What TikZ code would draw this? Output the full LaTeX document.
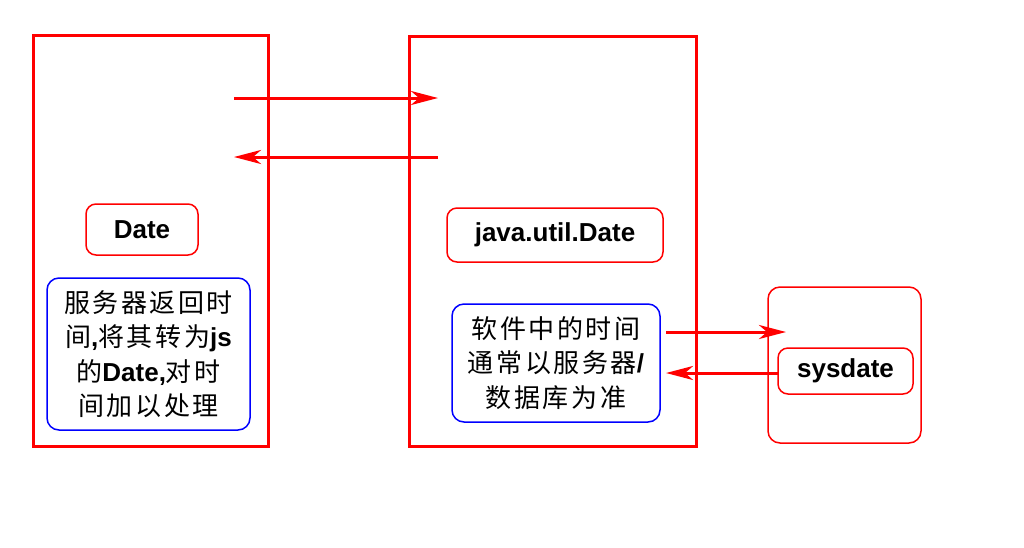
\documentclass[tikz,border=0pt]{standalone}
\usepackage{fontspec}
\setmainfont{Liberation Sans}
\newfontfamily\cjk[LetterSpace=10]{Noto Sans CJK SC}
\usetikzlibrary{arrows.meta}
\tikzset{
  bigbox/.style={draw=red, line width=3pt, inner sep=0pt},
  classbox/.style={draw=red, line width=1.5pt, rounded corners=10pt, inner sep=0pt,
    font=\fontsize{26}{30}\selectfont\bfseries},
  notebox/.style={draw=blue, line width=1.5pt, rounded corners=12pt, inner sep=0pt, align=center,
    font=\fontsize{26}{34.5}\selectfont\cjk},
  conn/.style={draw=red, line width=3pt, -{Stealth[length=27pt,width=14pt,inset=8pt]}}
}
\newcommand{\lb}[1]{{\normalfont\bfseries #1}}
\begin{document}
\begin{tikzpicture}[x=1pt,y=-1pt]
\useasboundingbox (0,0) rectangle (1024,547);
\node[bigbox, minimum width=235pt, minimum height=411pt] (L) at (150.5,240.5) {};
\node[bigbox, minimum width=287pt, minimum height=410pt] (M) at (552.5,241) {};
\node[draw=red, line width=1.5pt, rounded corners=12pt, minimum width=153pt, minimum height=156pt] (R) at (844.5,365) {};
\node[classbox, minimum width=112pt, minimum height=51pt] (date) at (142,229.5) {Date};
\node[notebox, minimum width=203pt, minimum height=152pt] (nL) at (148.5,354)
  {服务器返回时\\间\lb{,}将其转为\lb{js}\\的\lb{Date,}对时\\间加以处理};
\node[classbox, minimum width=216pt, minimum height=54pt] (jdate) at (555,235) {java.util.Date};
\node[notebox, minimum width=208pt, minimum height=118pt] (nM) at (556,363)
  {软件中的时间\\通常以服务器\lb{/}\\数据库为准};
\node[classbox, minimum width=135pt, minimum height=46pt] (sys) at (845.5,371) {sysdate};
\coordinate (a1s) at (234,98);
\coordinate (a1e) at (438,98);
\coordinate (a2s) at (438,157);
\coordinate (a2e) at (234,157);
\coordinate (a3s) at (666,332);
\coordinate (a3e) at (786,332);
\coordinate (a4s) at (778,373);
\coordinate (a4e) at (666,373);
\draw[conn] (a1s) -- (a1e);
\draw[conn] (a2s) -- (a2e);
\draw[conn] (a3s) -- (a3e);
\draw[conn] (a4s) -- (a4e);
\end{tikzpicture}
\end{document}
